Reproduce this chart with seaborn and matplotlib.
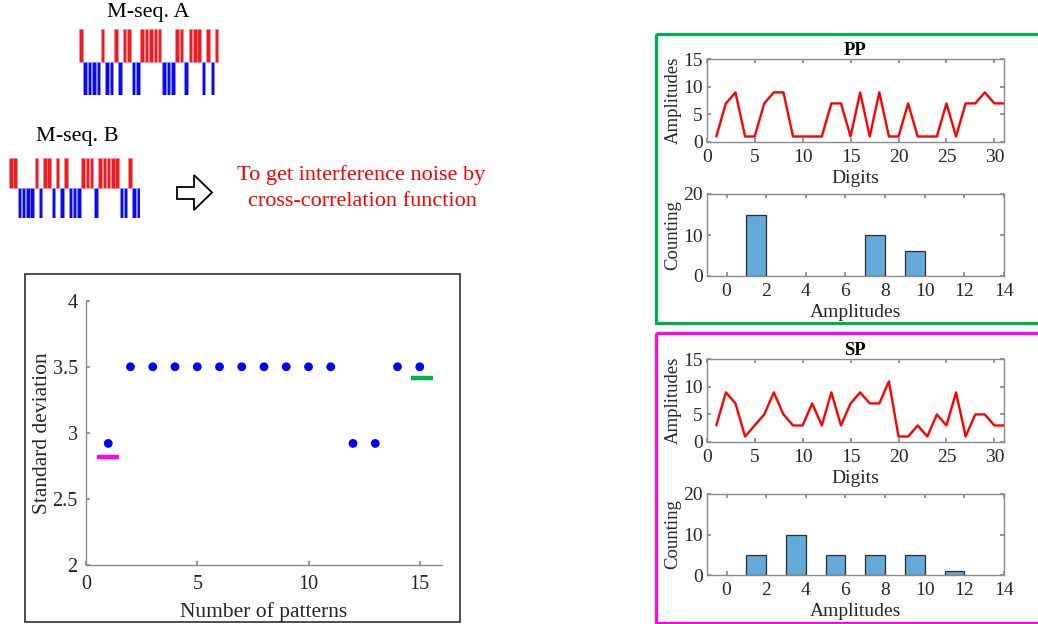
import numpy as np
import pandas as pd
import matplotlib
matplotlib.use("Agg")
import matplotlib.pyplot as plt
from matplotlib.patches import Rectangle, Polygon
import seaborn as sns

# ---- data ----
mseq_a = [1, 0, 0, 0, 0, 1, 0, 0, 1, 0, 1, 1, 0, 0, 1, 1, 1, 1, 1, 0, 0, 0,
          1, 1, 0, 1, 1, 1, 0, 1, 0, 1]
mseq_b = [1, 1, 0, 0, 0, 0, 1, 0, 1, 1, 0, 1, 0, 1, 0, 0, 0, 1, 1, 1, 0, 1,
          1, 1, 1, 1, 0, 0, 1, 0, 0]

pattern_no = list(range(1, 16))
std_dev = [2.92, 3.5, 3.5, 3.5, 3.5, 3.5, 3.5, 3.5, 3.5, 3.5, 3.5, 2.92, 2.92,
           3.5, 3.5]
sp_level_x = [0.5, 1.5]
sp_level = 2.82
pp_level_x = [14.6, 15.6]
pp_level = 3.415

digits = list(range(1, 32))
pp_amp = [1, 7, 9, 1, 1, 7, 9, 9, 1, 1, 1, 1, 7, 7, 1, 9, 1, 9, 1, 1, 7, 1, 1,
          1, 7, 1, 7, 7, 9, 7, 7]
sp_amp = [3, 9, 7, 1, 3, 5, 9, 5, 3, 3, 7, 3, 9, 3, 7, 9, 7, 7, 11, 1, 1, 3, 1,
          5, 3, 9, 1, 5, 5, 3, 3]
hist_edges = list(range(1, 13))

# ---- style ----
sns.set_theme(style="white")
plt.rcParams["font.family"] = ["Liberation Serif", "DejaVu Serif"]
TXT = "#262626"
SPINE = "#8a8a8a"
RED = "#ED1C24"
BLUE = "#0A0AF0"
MAG = "#FF00FF"
GRN = "#00B050"

W, H = 1038, 624
fig = plt.figure(figsize=(W / 100, H / 100), dpi=100)


def px_axes(x0, y0, x1, y1, **kw):
    return fig.add_axes([x0 / W, 1 - y1 / H, (x1 - x0) / W, (y1 - y0) / H], **kw)


# overlay for frames, captions and the arrow
ov = px_axes(0, 0, W, H, zorder=0)
ov.set_xlim(0, W)
ov.set_ylim(H, 0)
ov.axis("off")
ov.add_patch(Rectangle((25, 274), 435, 348, fill=False, ec="#404040", lw=1.3))
ov.add_patch(Rectangle((655.5, 33.5), 400, 289, fill=False, ec=GRN, lw=2.3))
ov.add_patch(Rectangle((655.5, 333), 400, 289.5, fill=False, ec=MAG, lw=2.3))
ov.text(148, 13, "M-seq. A", ha="center", va="center", fontsize=16, color="black")
ov.text(77, 136, "M-seq. B", ha="center", va="center", fontsize=16, color="black")
ov.text(361, 175, "To get interference noise by", ha="center", va="center",
        fontsize=16, color="red")
ov.text(362, 201, "cross-correlation function", ha="center", va="center",
        fontsize=16, color="red")
ov.add_patch(Polygon([(177, 187), (194, 187), (194, 175), (212, 192.5),
                      (194, 210), (194, 199), (177, 199)],
                     closed=True, fc="white", ec="black", lw=1.3))


# ---- M-sequence bar codes ----
def draw_code(seq, x0, x1, y0, y1):
    ax = px_axes(x0, y0, x1, y1)
    idx = np.arange(len(seq))
    bits = np.array(seq)
    ax.bar(idx[bits == 1], 1, bottom=1, width=0.8, color=RED,
           edgecolor="#F08A8E", lw=0.4)
    ax.bar(idx[bits == 0], 1, bottom=0, width=0.8, color=BLUE,
           edgecolor="#8A8AF5", lw=0.4)
    ax.set_xlim(-0.5, len(seq) - 0.5)
    ax.set_ylim(0, 2)
    ax.axis("off")


draw_code(mseq_a, 78.6, 218.9, 29.3, 95)
draw_code(mseq_b, 8.8, 140.5, 158.3, 218.3)

# ---- standard deviation scatter ----
ax = px_axes(86, 300.7, 442, 565)
sns.scatterplot(x=pattern_no, y=std_dev, ax=ax, color="#0000FF", s=40,
                edgecolor="none", zorder=3)
ax.plot(sp_level_x, [sp_level] * 2, color=MAG, lw=3.2, solid_capstyle="butt")
ax.plot(pp_level_x, [pp_level] * 2, color=GRN, lw=3.2, solid_capstyle="butt")
ax.set_xlim(0, 16)
ax.set_ylim(2, 4)
ax.set_xticks([0, 5, 10, 15])
ax.set_yticks([2, 2.5, 3, 3.5, 4])
ax.set_yticklabels(["2", "2.5", "3", "3.5", "4"])
for s in ["top", "right"]:
    ax.spines[s].set_visible(False)
for s in ["left", "bottom"]:
    ax.spines[s].set_color(SPINE)
    ax.spines[s].set_linewidth(1)
ax.tick_params(direction="in", length=3, colors=SPINE, labelcolor=TXT,
               labelsize=14.5, left=True, bottom=True)
ax.tick_params(axis="x", pad=7)
ax.tick_params(axis="y", pad=6)
ax.set_xlabel("Number of patterns", fontsize=15.5, color=TXT, labelpad=6)
ax.set_ylabel("Standard deviation", fontsize=15.5, color=TXT, labelpad=0)
ax.patch.set_alpha(0)


# ---- right panels ----
def boxed(ax):
    for s in ax.spines.values():
        s.set_visible(True)
        s.set_color(SPINE)
        s.set_linewidth(1)
    ax.tick_params(direction="in", length=3, colors=SPINE, labelcolor=TXT,
                   labelsize=14, left=True, bottom=True, top=True, right=True)
    ax.tick_params(axis="x", pad=5)
    ax.tick_params(axis="y", pad=3)
    ax.patch.set_alpha(0)


def line_panel(y0, y1, amp, title):
    ax = px_axes(706.7, y0, 1004, y1)
    sns.lineplot(x=digits, y=amp, ax=ax, color="#FF0000", lw=1.7)
    ax.set_xlim(0, 31)
    ax.set_ylim(0, 15)
    ax.set_xticks([0, 5, 10, 15, 20, 25, 30])
    ax.set_yticks([0, 5, 10, 15])
    boxed(ax)
    ax.set_xlabel("Digits", fontsize=14, color=TXT, labelpad=3)
    ax.set_ylabel("Amplitudes", fontsize=13.5, color=TXT, labelpad=1)
    ax.set_title(title, fontsize=13.5, fontweight="bold", color="black", pad=3)


def hist_panel(y0, y1, amp):
    ax = px_axes(706.7, y0, 1004, y1)
    sns.histplot(x=amp, bins=hist_edges, ax=ax, color="#4D9ED4", alpha=0.88,
                 edgecolor="#2b2b2b", linewidth=0.9)
    for p in ax.patches:
        if p.get_height() == 0:
            p.set_visible(False)
    ax.set_xlim(-1, 14)
    ax.set_ylim(0, 20)
    ax.set_xticks(range(0, 15, 2))
    ax.set_yticks([0, 10, 20])
    boxed(ax)
    ax.set_xlabel("Amplitudes", fontsize=14, color=TXT, labelpad=3)
    ax.set_ylabel("Counting", fontsize=13.5, color=TXT, labelpad=1)


line_panel(59.3, 142, pp_amp, "PP")
hist_panel(194, 276, pp_amp)
line_panel(359.3, 442, sp_amp, "SP")
hist_panel(494, 575, sp_amp)

fig.savefig("out.png", dpi=100, facecolor="white")
